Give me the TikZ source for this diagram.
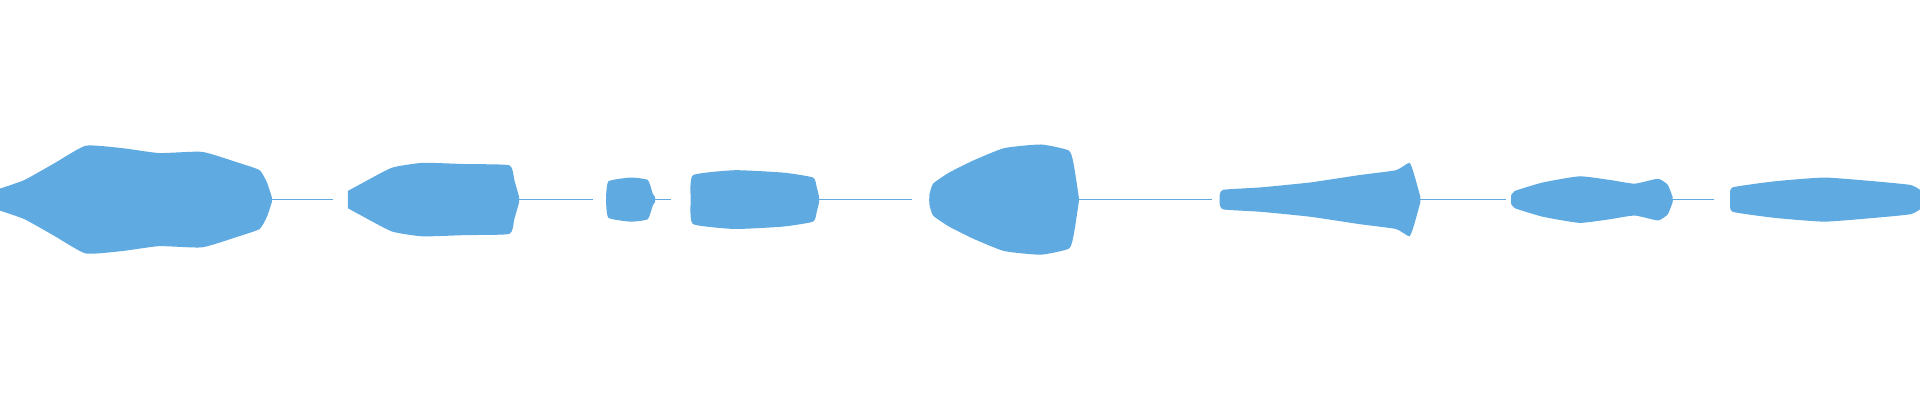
\documentclass[tikz,border=0pt]{standalone}
\begin{document}
\tikzset{every picture/.style={line width=0.75pt}}
\definecolor{wave}{RGB}{94,170,225}
\newcommand\blob[3]{% start x, end x, top envelope
    \fill [wave] (#1,0) -- plot [smooth, tension=0.3] coordinates {#3} -- (#2,0) -- cycle;
    \fill [wave, yscale=-1] (#1,0) -- plot [smooth, tension=0.3] coordinates {#3} -- (#2,0) -- cycle;
    \draw [wave, line width=1.5pt] (#1,0) -- (#2,0);
}
\begin{tikzpicture}[x=1pt,y=1pt,yscale=-1,xscale=1]

    \useasboundingbox (0,-163) rectangle (1568,164);

    % envelopes (x, half height) of the sounding parts
    \blob{0}{222}{(0,9) (20,16) (45,30) (70,44) (100,42) (130,38) (165,39) (195,30) (212,24) (218,14) (222,2)}
    \blob{284}{424}{(284,7) (295,13) (320,26) (345,30) (380,29) (416,28) (420,16) (424,2)}
    \blob{495}{535}{(495,3) (497,15) (515,18) (529,16) (533,5) (535,2)}
    \blob{564}{669}{(564,3) (566,20) (600,24) (640,22) (664,18) (667,10) (669,2)}
    \blob{759}{881}{(759,4) (762,13) (775,22) (795,32) (820,42) (850,45) (873,40) (877,28) (881,2)}
    \blob{996}{1160}{(996,3) (999,8) (1030,10) (1070,14) (1110,20) (1140,24) (1151,30) (1155,20) (1160,2)}
    \blob{1234}{1366}{(1234,3) (1237,7) (1260,14) (1290,19) (1315,16) (1335,13) (1354,17) (1362,12) (1366,2)}
    \blob{1413}{1568}{(1413,3) (1415,10) (1450,15) (1490,18) (1530,15) (1560,12) (1568,8)}

    % silent stretches
    \foreach \a/\b in {222/272, 424/484, 533/548, 668/745, 880/990, 1160/1230, 1366/1400}{
        \draw [wave, line width=0.8pt] (\a,0) -- (\b,0);
    }

\end{tikzpicture}
\end{document}
